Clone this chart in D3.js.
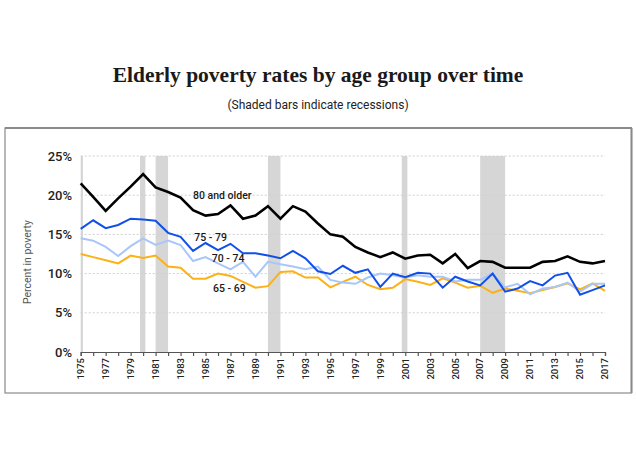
<!DOCTYPE html>
<html>
<head>
<meta charset="utf-8">
<script src="https://cdn.jsdelivr.net/npm/d3@7"></script>
<style>
  html, body { margin: 0; padding: 0; background: #fff; }
  svg { display: block; }
</style>
</head>
<body>
<div id="chart"></div>
<script>
// ---------- DATA ----------
const years = d3.range(1975, 2018);
const age80plus = [21.5,19.8,18.0,19.6,21.1,22.7,21.0,20.4,19.7,18.1,17.4,17.6,18.7,
  17.0,17.4,18.6,17.0,18.6,17.9,16.4,15.0,14.7,13.4,12.7,12.1,12.7,11.9,12.3,12.4,
  11.3,12.5,10.7,11.6,11.5,10.75,10.75,10.75,11.5,11.6,12.2,11.5,11.3,11.6];
const age75to79 = [15.7,16.8,15.8,16.2,17.0,16.9,16.75,15.2,14.7,12.9,13.9,13.0,13.8,
  12.6,12.6,12.3,11.95,12.9,11.95,10.3,9.95,11.0,10.1,10.55,8.3,10.0,9.55,10.1,10.0,
  8.2,9.6,9.0,8.5,10.0,7.7,8.1,9.05,8.5,9.75,10.1,7.3,7.9,8.5];
const age70to74 = [14.5,14.2,13.4,12.25,13.5,14.5,13.65,14.2,13.65,11.6,12.1,11.3,10.55,
  11.5,9.6,11.5,11.2,10.9,10.55,10.9,9.2,8.85,8.7,9.5,10.0,9.8,9.5,9.8,9.6,
  9.6,9.0,9.2,9.2,10.0,8.25,8.7,7.35,8.1,8.3,8.85,7.7,8.7,8.7];
const age65to69 = [12.5,12.1,11.7,11.3,12.3,12.0,12.3,10.9,10.75,9.35,9.35,10.0,9.7,
  8.95,8.2,8.4,10.2,10.3,9.5,9.5,8.25,8.95,9.6,8.55,8.0,8.2,9.3,8.95,8.55,
  9.4,8.85,8.2,8.45,7.55,8.1,7.8,7.5,7.9,8.3,8.75,8.0,8.75,7.8];
const recessionStarts = [1975, 1979.75, 1981, 1990, 2000.72, 2007];
const recessionEnds   = [1975.18, 1980.18, 1982, 1991, 2001.17, 2009];
const yTicks = [0, 5, 10, 15, 20, 25];
const xLabelYears = d3.range(1975, 2018, 2);
const seriesNames = ["65 - 69", "70 - 74", "75 - 79", "80 and older"];
const seriesValues = [age65to69, age70to74, age75to79, age80plus];
// label anchor points in data units (year, percent)
const labelYears = [1985.6, 1985.5, 1984.1, 1984.0];
const labelValues = [7.65, 11.5, 14.15, 19.5];

// ---------- STYLE ----------
const seriesColors = ["#fbb117", "#a8c6fa", "#1150e8", "#000000"];
const seriesWidths = [2, 2, 2, 2.6];

const W = 636, H = 475;
const svg = d3.select("#chart").append("svg").attr("width", W).attr("height", H);

const x = d3.scaleLinear().domain([1975, 2017]).range([80.7, 605]);
const y = d3.scaleLinear().domain([0, 25]).range([352, 156]);

// Titles
svg.append("text").attr("x", 318).attr("y", 82).attr("text-anchor", "middle")
  .style("font-family", "'Liberation Serif', serif").style("font-weight", "bold")
  .style("font-size", "21.5px").attr("fill", "#1a1a1a")
  .text("Elderly poverty rates by age group over time");
svg.append("text").attr("x", 318).attr("y", 109).attr("text-anchor", "middle")
  .style("font-family", "Roboto, sans-serif").style("font-size", "12px").attr("fill", "#222")
  .text("(Shaded bars indicate recessions)");

// Frame
svg.append("rect").attr("x", 5).attr("y", 128).attr("width", 626.5).attr("height", 265)
  .attr("fill", "none").attr("stroke", "#8a8a8a").attr("stroke-width", 1.2);
svg.append("line").attr("x1", 5).attr("x2", 632).attr("y1", 128).attr("y2", 128)
  .attr("stroke", "#8a8a8a").attr("stroke-width", 2);
svg.append("line").attr("x1", 631.5).attr("x2", 631.5).attr("y1", 128).attr("y2", 393)
  .attr("stroke", "#8a8a8a").attr("stroke-width", 2);

// Recession bars
svg.append("g").selectAll("rect").data(recessionStarts).join("rect")
  .attr("x", (d) => x(d))
  .attr("width", (d, i) => x(recessionEnds[i]) - x(d))
  .attr("y", y(25)).attr("height", y(0) - y(25))
  .attr("fill", "#d6d6d6");

// Gridlines
svg.append("g").selectAll("line").data(yTicks.filter(d => d > 0)).join("line")
  .attr("x1", x(1975)).attr("x2", x(2017))
  .attr("y1", d => y(d)).attr("y2", d => y(d))
  .attr("stroke", "#cfcfcf").attr("stroke-width", 1).attr("stroke-dasharray", "2,2");

// Y axis labels
svg.append("g").selectAll("text").data(yTicks).join("text")
  .attr("x", 72).attr("y", d => y(d)).attr("dy", "0.35em").attr("text-anchor", "end")
  .style("font-family", "Roboto, sans-serif").style("font-size", "13px").style("font-weight", 500)
  .attr("fill", "#222").text(d => d + "%");

svg.append("text").attr("transform", "translate(31,262) rotate(-90)").attr("text-anchor", "middle")
  .style("font-family", "Roboto, sans-serif").style("font-size", "10.5px").attr("fill", "#555")
  .text("Percent in poverty");

// X axis
const xAxis = d3.axisBottom(x).tickValues(years).tickSize(4).tickFormat("");
const gx = svg.append("g").attr("transform", `translate(0,${y(0)})`).call(xAxis);
gx.select(".domain").attr("stroke", "#555").attr("stroke-width", 1.2);
gx.selectAll(".tick line").attr("stroke", "#555").attr("stroke-width", 1.2);

svg.append("g").selectAll("text").data(xLabelYears).join("text")
  .attr("transform", d => `translate(${x(d)},358) rotate(-90)`)
  .attr("dy", "0.35em").attr("text-anchor", "end")
  .style("font-family", "Roboto, sans-serif").style("font-size", "9.5px").style("font-weight", 500)
  .attr("fill", "#222").text(d => d);

// Lines
const line = d3.line().x((d, i) => x(years[i])).y(d => y(d));
svg.append("g").selectAll("path").data(seriesValues).join("path")
  .attr("d", d => line(d)).attr("fill", "none")
  .attr("stroke", (d, i) => seriesColors[i])
  .attr("stroke-width", (d, i) => seriesWidths[i])
  .attr("stroke-linejoin", "miter");

// Series labels
svg.append("g").selectAll("text").data(seriesNames).join("text")
  .attr("x", (d, i) => x(labelYears[i])).attr("y", (d, i) => y(labelValues[i]))
  .style("font-family", "Roboto, sans-serif").style("font-size", "10.5px").style("font-weight", 500)
  .attr("fill", "#1a1a1a").text(d => d);
</script>
</body>
</html>
